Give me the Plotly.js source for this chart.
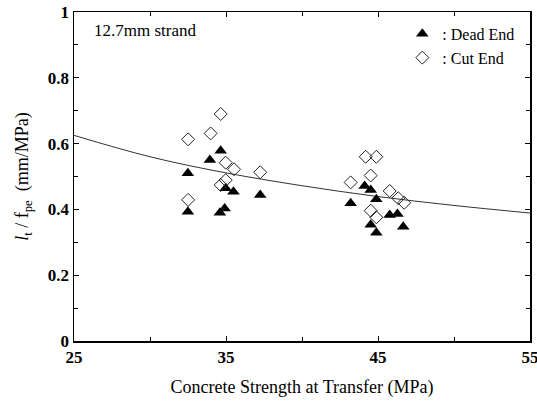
<!DOCTYPE html>
<html><head><meta charset="utf-8">
<script src="https://cdn.plot.ly/plotly-3.0.1.min.js"></script>
<style>html,body{margin:0;padding:0;background:#fff;}#chart{width:537px;height:407px;}</style>
</head><body><div id="chart"></div>
<script>
// Dead End (filled triangles)
const deadX = [34.65, 33.94, 32.49, 34.98, 35.49, 37.25, 32.49, 34.6, 34.91,
               44.12, 44.52, 44.89, 43.20, 45.77, 46.28, 44.52, 46.66, 44.89];
const deadY = [0.578, 0.550, 0.510, 0.464, 0.454, 0.444, 0.393, 0.390, 0.403,
               0.471, 0.459, 0.431, 0.419, 0.383, 0.386, 0.353, 0.347, 0.329];
// Cut End (open diamonds)
const cutX = [34.65, 33.99, 32.51, 34.98, 35.53, 37.25, 34.98, 34.65, 32.51,
              44.19, 44.89, 44.52, 43.20, 45.77, 46.33, 46.72, 44.52, 44.89];
const cutY = [0.690, 0.631, 0.613, 0.542, 0.522, 0.513, 0.489, 0.474, 0.429,
              0.560, 0.560, 0.503, 0.482, 0.456, 0.434, 0.420, 0.396, 0.376];
// Fitted curve
const curveX = [25, 30, 35, 40, 45, 50, 55];
const curveY = [0.625, 0.560, 0.511, 0.472, 0.439, 0.412, 0.389];

const xTickVals = [25, 35, 45, 55];
const yTickVals = [0, 0.2, 0.4, 0.6, 0.8, 1];
const yTickText = ['0', '0.2', '0.4', '0.6', '0.8', '1'];

const serif = 'Liberation Serif';

const traces = [
  {x: curveX, y: curveY, mode: 'lines', line: {color: '#333', width: 1, shape: 'spline'},
   showlegend: false, hoverinfo: 'skip'},
  {x: deadX, y: deadY, mode: 'markers', name: ': Dead End',
   marker: {symbol: 'triangle-up', size: 11, color: '#000'}},
  {x: cutX, y: cutY, mode: 'markers', name: ': Cut End',
   marker: {symbol: 'diamond-open', size: 10, color: '#222', line: {width: 1}}}
];

const layout = {
  width: 537, height: 407,
  margin: {l: 74, r: 7, t: 12, b: 66},
  paper_bgcolor: '#fff', plot_bgcolor: '#fff',
  font: {family: serif, color: '#000', size: 16},
  showlegend: true,
  legend: {x: 0.72, y: 0.985, xanchor: 'left', yanchor: 'top', bgcolor: 'rgba(0,0,0,0)',
           font: {family: serif, size: 16, color: '#000'}, tracegroupgap: 0, itemwidth: 30},
  xaxis: {
    range: [25, 55], tickvals: xTickVals, ticks: 'inside', ticklen: 5, tickcolor: '#000',
    ticklabeloverflow: 'allow',
    showline: true, linecolor: '#000', linewidth: 1.5, mirror: 'allticks', showgrid: false, zeroline: false,
    minor: {dtick: 5, tick0: 25, ticks: 'inside', ticklen: 4, tickcolor: '#000'},
    tickfont: {family: serif, size: 17, color: '#000', weight: 'bold'},
    title: {text: 'Concrete Strength at Transfer (MPa)', font: {family: serif, size: 18, color: '#000'}, standoff: 14}
  },
  yaxis: {
    range: [0, 1], tickvals: yTickVals, ticktext: yTickText, ticks: 'inside', ticklen: 5, tickcolor: '#000',
    ticklabeloverflow: 'allow',
    showline: true, linecolor: '#000', linewidth: 1.5, mirror: 'allticks', showgrid: false, zeroline: false,
    minor: {dtick: 0.1, tick0: 0, ticks: 'inside', ticklen: 4, tickcolor: '#000'},
    tickfont: {family: serif, size: 17, color: '#000', weight: 'bold'},
    title: {text: '<i>l</i><sub>t</sub> / f<sub>pe</sub>  (mm/MPa)', font: {family: serif, size: 18, color: '#000'}, standoff: 14}
  },
  annotations: [
    {xref: 'paper', yref: 'paper', x: 0.039, y: 0.945, xanchor: 'left', yanchor: 'middle',
     text: '12.7mm strand', showarrow: false, font: {family: serif, size: 17, color: '#000'}}
  ]
};

Plotly.newPlot('chart', traces, layout, {displayModeBar: false, staticPlot: true});
</script>
</body></html>
